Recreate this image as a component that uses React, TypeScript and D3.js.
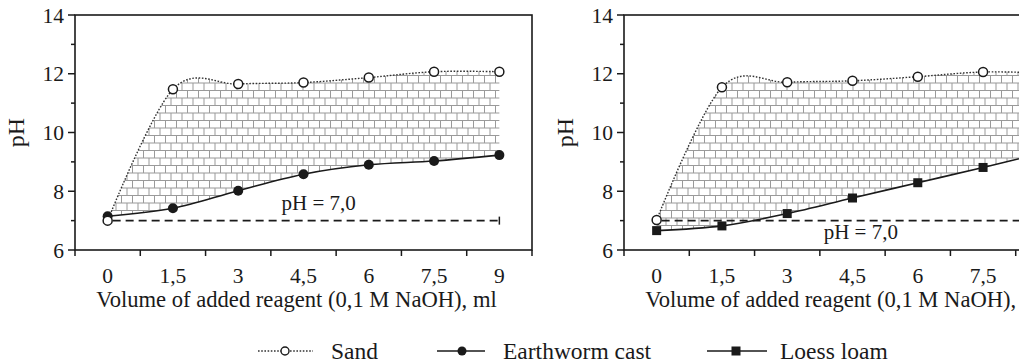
import React from 'react';
import * as d3 from 'd3';

// values (pH vs. ml of 0,1 M NaOH)
const volumes = [0, 1.5, 3, 4.5, 6, 7.5, 9];
const volumeLabels = ['0', '1,5', '3', '4,5', '6', '7,5', '9'];
const sandLeft = [7.0, 11.47, 11.65, 11.7, 11.87, 12.07, 12.07];
const earthwormCast = [7.15, 7.42, 8.02, 8.58, 8.9, 9.03, 9.23];
const sandRight = [7.02, 11.54, 11.71, 11.76, 11.9, 12.06, 12.02];
const loessLoam = [6.66, 6.82, 7.24, 7.77, 8.29, 8.81, 9.35];
const phTicks = [6, 8, 10, 12, 14];
const phMinorTicks = [7, 9, 11, 13];
const neutralPh = 7;
const legendLabels = ['Sand', 'Earthworm cast', 'Loess loam'];

const WIDTH = 1019;
const HEIGHT = 363;
const PLOT_W = 457;
const TOP = 15;
const BOTTOM = 250;
const FONT = "'Liberation Serif', Tinos, Times";
const INK = '#1a1a1a';

type Pt = { v: number; s: number; l: number };

const Txt: React.FC<React.SVGProps<SVGTextElement>> = (props) => (
    <text fontFamily={FONT} fill={INK} {...props}/>
);

interface PanelProps {
    left: number;
    sand: number[];
    lower: number[];
    marker: 'circle' | 'square';
    labelAt: [number, number];
}

const Panel: React.FC<PanelProps> = ({left, sand, lower, marker, labelAt}) => {
    const x = d3.scaleLinear().domain([-0.75, 9.75]).range([left, left + PLOT_W]);
    const y = d3.scaleLinear().domain([6, 14]).range([BOTTOM, TOP]);
    const pts: Pt[] = volumes.map((v, i) => ({v, s: sand[i], l: lower[i]}));

    const area = d3.area<Pt>().x(d => x(d.v)).y0(d => y(d.l)).y1(d => y(d.s)).curve(d3.curveCardinal);
    const lowerLine = d3.line<Pt>().x(d => x(d.v)).y(d => y(d.l)).curve(d3.curveCardinal);
    const sandLine = d3.line<Pt>().x(d => x(d.v)).y(d => y(d.s)).curve(d3.curveCardinal);
    // tick marks sit on the edges between the value slots
    const edges = d3.range(8).map(i => -0.75 + i * 1.5);

    return (
        <g>
            <path d={area(pts) as string} fill="url(#bricks)"/>
            <rect x={left} y={TOP} width={PLOT_W} height={BOTTOM - TOP} fill="none" stroke={INK} strokeWidth={1.6}/>

            {phTicks.map(t => (
                <g key={t}>
                    <line x1={left - 7} x2={left} y1={y(t)} y2={y(t)} stroke={INK} strokeWidth={1.5}/>
                    <Txt x={left - 11} y={y(t)} dy="0.35em" textAnchor="end" fontSize={21.5}>{t}</Txt>
                </g>
            ))}
            {phMinorTicks.map(t => (
                <line key={t} x1={left - 4} x2={left} y1={y(t)} y2={y(t)} stroke={INK} strokeWidth={1.5}/>
            ))}
            {edges.map(e => (
                <line key={e} x1={x(e)} x2={x(e)} y1={BOTTOM} y2={BOTTOM + 6} stroke={INK} strokeWidth={1.5}/>
            ))}
            {volumes.map((v, i) => (
                <Txt key={v} x={x(v)} y={BOTTOM + 33} textAnchor="middle" fontSize={21.5}>{volumeLabels[i]}</Txt>
            ))}

            <Txt x={left + PLOT_W / 2 - 7} y={307} textAnchor="middle" fontSize={22.6}>
                Volume of added reagent (0,1 M NaOH), ml
            </Txt>
            <Txt transform={`translate(${left - 51},${(TOP + BOTTOM) / 2}) rotate(-90)`} textAnchor="middle"
                 fontSize={24}>pH</Txt>

            <line x1={x(0) + 5} x2={x(9)} y1={y(neutralPh)} y2={y(neutralPh)} stroke={INK} strokeWidth={1.6}
                  strokeDasharray="8,5"/>
            <line x1={x(9)} x2={x(9)} y1={y(neutralPh) - 4} y2={y(neutralPh) + 4} stroke={INK} strokeWidth={1.5}/>
            <Txt x={x(labelAt[0])} y={y(labelAt[1])} textAnchor="middle" fontSize={21}>pH = 7,0</Txt>

            <path d={lowerLine(pts) as string} fill="none" stroke={INK} strokeWidth={1.6}/>
            <path d={sandLine(pts) as string} fill="none" stroke="#333" strokeWidth={1.4} strokeDasharray="1.6,1.6"/>

            {pts.map(d => marker === 'circle'
                ? <circle key={'l' + d.v} cx={x(d.v)} cy={y(d.l)} r={5} fill={INK}/>
                : <rect key={'l' + d.v} x={x(d.v) - 4.5} y={y(d.l) - 4.5} width={9} height={9} fill={INK}/>
            )}
            {pts.map(d => (
                <circle key={'s' + d.v} cx={x(d.v)} cy={y(d.s)} r={4.5} fill="white" stroke={INK} strokeWidth={1.5}/>
            ))}
        </g>
    );
};

const legendPlaces = [
    {x1: 258, x2: 313, mx: 285, tx: 331},
    {x1: 437, x2: 485, mx: 462, tx: 503},
    {x1: 707, x2: 767, mx: 736, tx: 780},
];

const Legend: React.FC = () => {
    const ly = 351;
    return (
        <g>
            {legendPlaces.map((it, i) => (
                <g key={i}>
                    <line x1={it.x1} x2={it.x2} y1={ly} y2={ly} stroke={i === 0 ? '#333' : INK}
                          strokeWidth={i === 0 ? 1.4 : 1.6} strokeDasharray={i === 0 ? '1.6,1.6' : undefined}/>
                    {i === 0 && <circle cx={it.mx} cy={ly} r={4} fill="white" stroke={INK} strokeWidth={1.4}/>}
                    {i === 1 && <circle cx={it.mx} cy={ly} r={4.5} fill={INK}/>}
                    {i === 2 && <rect x={it.mx - 4.5} y={ly - 4.5} width={9} height={9} fill={INK}/>}
                    <Txt x={it.tx} y={359} fontSize={23.5}>{legendLabels[i]}</Txt>
                </g>
            ))}
        </g>
    );
};

const App: React.FC = () => (
    <svg width={WIDTH} height={HEIGHT} style={{position: 'absolute', left: 0, top: 0, background: 'white'}}>
        <defs>
            <pattern id="bricks" patternUnits="userSpaceOnUse" width={11} height={15}>
                <rect width={11} height={15} fill="white"/>
                <path d="M0,0.5H11M0,8H11M0.5,0V8M6,8V15" stroke="#9a9a9a" strokeWidth={1} fill="none"/>
            </pattern>
        </defs>
        <Panel left={75} sand={sandLeft} lower={earthwormCast} marker="circle" labelAt={[4.85, 7.35]}/>
        <Panel left={624} sand={sandRight} lower={loessLoam} marker="square" labelAt={[4.69, 6.37]}/>
        <Legend/>
    </svg>
);

export default App;
